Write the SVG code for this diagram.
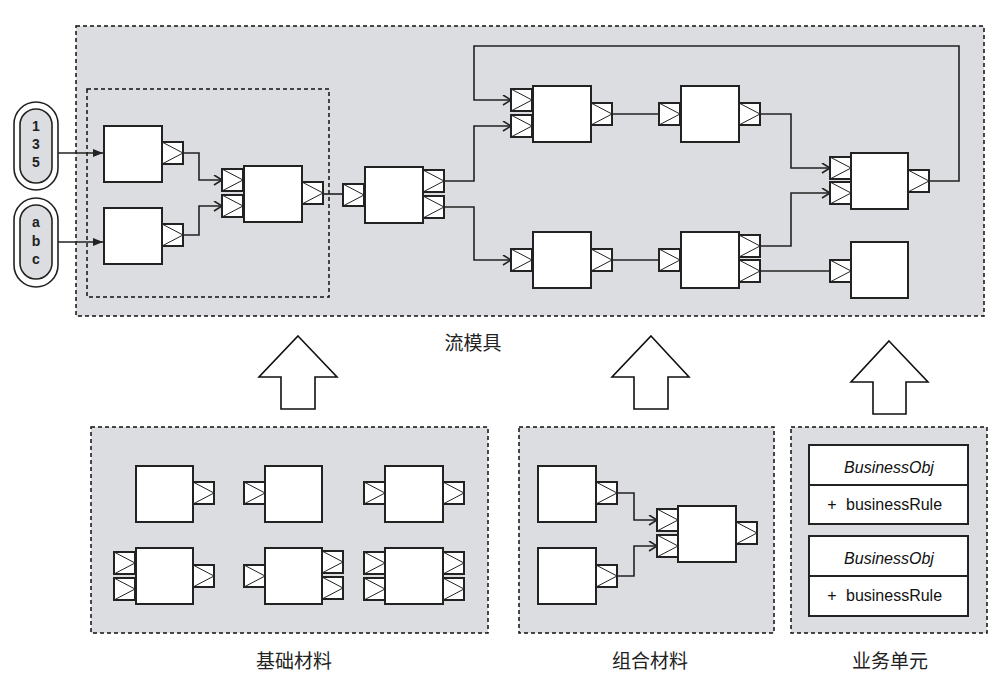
<svg xmlns="http://www.w3.org/2000/svg" xmlns:xlink="http://www.w3.org/1999/xlink" width="1000" height="688" viewBox="0 0 1000 688">
<style>
.cont{fill:#dcdde0;stroke:#111;stroke-width:1.5;stroke-dasharray:4 3}
.inner{fill:none;stroke:#111;stroke-width:1.5;stroke-dasharray:4 3}
.box{fill:#fff;stroke:#222;stroke-width:2}
.prt{fill:#fff;stroke:#222;stroke-width:2}
.tri{fill:none;stroke:#222;stroke-width:1}
.ln{fill:none;stroke:#222;stroke-width:1.6}
.big{fill:#fff;stroke:#111;stroke-width:1.6}
.pill{fill:#fff;stroke:#222;stroke-width:1.6}
.pilli{fill:#dcdde0;stroke:#222;stroke-width:1.6}
.pt{font-family:"Liberation Sans",Arial,sans-serif;font-size:14px;font-weight:bold;fill:#222;text-anchor:middle}
.cjk{font-family:"Noto Sans CJK SC","Noto Sans",sans-serif;font-size:19px;fill:#222;text-anchor:middle}
.cls{font-family:"Liberation Sans",Arial,sans-serif;font-size:16px;fill:#111}
</style>
<defs>
<g id="port"><rect class="prt" x="0" y="0" width="21" height="22"/><path class="tri" d="M0,0 L21,11 L0,22"/></g>
<marker id="fa" markerUnits="userSpaceOnUse" markerWidth="11" markerHeight="9" refX="10" refY="4" orient="auto"><path d="M0,0 L10,4 L0,8 z" fill="#222"/></marker>
<marker id="oa" markerUnits="userSpaceOnUse" markerWidth="11" markerHeight="12" refX="9" refY="5.5" orient="auto"><path d="M1,0.5 L9,5.5 L1,10.5" fill="none" stroke="#222" stroke-width="1.6"/></marker>
</defs>

<g id="containers">
<rect class="cont" x="76" y="26" width="908" height="290"/>
<rect class="inner" x="87" y="89" width="242" height="208"/>
<rect class="cont" x="91" y="427" width="397" height="206"/>
<rect class="cont" x="519" y="427" width="255" height="206"/>
<rect class="cont" x="791" y="427" width="196" height="206"/>
</g>

<g id="src1">
<rect class="pill" x="14" y="102" width="44" height="88" rx="22"/>
<rect class="pilli" x="20" y="109" width="32" height="74" rx="16"/>
<text class="pt" x="36" y="131">1</text><text class="pt" x="36" y="149">3</text><text class="pt" x="36" y="167">5</text>
</g>
<g id="src2">
<rect class="pill" x="14" y="198" width="44" height="89" rx="22"/>
<rect class="pilli" x="20" y="205" width="32" height="74" rx="16"/>
<text class="pt" x="36" y="227">a</text><text class="pt" x="36" y="246">b</text><text class="pt" x="36" y="264">c</text>
</g>

<g id="connectors">
<path class="ln" d="M58,153 H103" marker-end="url(#fa)"/>
<path class="ln" d="M58,242 H103" marker-end="url(#fa)"/>
<path class="ln" d="M183,153 H199 V180 H222" marker-end="url(#oa)"/>
<path class="ln" d="M183,235 H199 V206 H222" marker-end="url(#oa)"/>
<path class="ln" d="M323,194 H343"/>
<path class="ln" d="M444,181 H474 V126 H511" marker-end="url(#oa)"/>
<path class="ln" d="M444,207 H474 V260 H511" marker-end="url(#oa)"/>
<path class="ln" d="M929,181 H959 V46 H474 V100 H511" marker-end="url(#oa)"/>
<path class="ln" d="M612,114 H659"/>
<path class="ln" d="M612,260 H659"/>
<path class="ln" d="M760,114 H791 V168 H830" marker-end="url(#oa)"/>
<path class="ln" d="M760,246 H791 V193 H830" marker-end="url(#oa)"/>
<path class="ln" d="M760,271 H830"/>
<path class="ln" d="M617,493 H634 V520 H657" marker-end="url(#oa)"/>
<path class="ln" d="M617,576 H634 V546 H657" marker-end="url(#oa)"/>
</g>

<g id="n1"><rect class="box" x="104" y="126" width="58" height="56"/><use href="#port" x="162" y="142"/></g>
<g id="n2"><rect class="box" x="104" y="208" width="58" height="56"/><use href="#port" x="162" y="224"/></g>
<g id="n3"><use href="#port" x="222" y="169"/><use href="#port" x="222" y="195"/><rect class="box" x="244" y="166" width="58" height="56"/><use href="#port" x="302" y="182"/></g>
<g id="n4"><use href="#port" x="343" y="184"/><rect class="box" x="365" y="167" width="58" height="56"/><use href="#port" x="423" y="170"/><use href="#port" x="423" y="196"/></g>
<g id="n5"><use href="#port" x="511" y="89"/><use href="#port" x="511" y="115"/><rect class="box" x="533" y="86" width="58" height="56"/><use href="#port" x="591" y="103"/></g>
<g id="n6"><use href="#port" x="511" y="249"/><rect class="box" x="533" y="232" width="58" height="56"/><use href="#port" x="591" y="249"/></g>
<g id="n7"><use href="#port" x="659" y="103"/><rect class="box" x="681" y="86" width="58" height="56"/><use href="#port" x="739" y="103"/></g>
<g id="n8"><use href="#port" x="659" y="249"/><rect class="box" x="681" y="232" width="58" height="56"/><use href="#port" x="739" y="235"/><use href="#port" x="739" y="260"/></g>
<g id="n9"><use href="#port" x="830" y="157"/><use href="#port" x="830" y="182"/><rect class="box" x="851" y="153" width="57" height="56"/><use href="#port" x="908" y="170"/></g>
<g id="n10"><use href="#port" x="830" y="260"/><rect class="box" x="851" y="242" width="57" height="56"/></g>

<g id="label-flow"><text class="cjk" x="473" y="350">流模具</text></g>

<g id="arrows-up">
<polygon class="big" points="298,336 337,377 315,377 315,409 281,409 281,377 259,377"/>
<polygon class="big" points="651,336 689,377 668,377 668,409 634,409 634,377 612,377"/>
<polygon class="big" points="889,341 928,382 906,382 906,414 873,414 873,382 851,382"/>
</g>

<g id="basic">
<g id="b1"><rect class="box" x="136" y="466" width="57" height="56"/><use href="#port" x="193" y="482"/></g>
<g id="b2"><use href="#port" x="244" y="482"/><rect class="box" x="265" y="466" width="57" height="56"/></g>
<g id="b3"><use href="#port" x="364" y="482"/><rect class="box" x="385" y="466" width="58" height="56"/><use href="#port" x="443" y="482"/></g>
<g id="b4"><use href="#port" x="114" y="552"/><use href="#port" x="114" y="578"/><rect class="box" x="136" y="548" width="57" height="56"/><use href="#port" x="193" y="565"/></g>
<g id="b5"><use href="#port" x="244" y="565"/><rect class="box" x="265" y="548" width="57" height="56"/><use href="#port" x="322" y="551"/><use href="#port" x="322" y="577"/></g>
<g id="b6"><use href="#port" x="364" y="552"/><use href="#port" x="364" y="578"/><rect class="box" x="385" y="548" width="58" height="56"/><use href="#port" x="443" y="552"/><use href="#port" x="443" y="578"/></g>
<text class="cjk" x="294" y="668">基础材料</text>
</g>

<g id="combo">
<g id="c1"><rect class="box" x="538" y="466" width="58" height="56"/><use href="#port" x="596" y="482"/></g>
<g id="c2"><rect class="box" x="538" y="548" width="58" height="56"/><use href="#port" x="596" y="565"/></g>
<g id="c3"><use href="#port" x="657" y="509"/><use href="#port" x="657" y="535"/><rect class="box" x="678" y="506" width="58" height="56"/><use href="#port" x="736" y="522"/></g>
<text class="cjk" x="650" y="668">组合材料</text>
</g>

<g id="business">
<g id="obj1">
<rect class="box" x="809" y="445" width="159" height="79"/>
<line x1="809" y1="485" x2="968" y2="485" stroke="#222" stroke-width="2"/>
<text class="cls" x="889" y="473" text-anchor="middle" font-style="italic" font-size="15.5">BusinessObj</text>
<text class="cls" x="832" y="510" text-anchor="middle" font-size="13">+</text>
<text class="cls" x="846" y="510">businessRule</text>
</g>
<g id="obj2">
<rect class="box" x="809" y="536" width="159" height="80"/>
<line x1="809" y1="576" x2="968" y2="576" stroke="#222" stroke-width="2"/>
<text class="cls" x="889" y="564" text-anchor="middle" font-style="italic" font-size="15.5">BusinessObj</text>
<text class="cls" x="832" y="601" text-anchor="middle" font-size="13">+</text>
<text class="cls" x="846" y="601">businessRule</text>
</g>
<text class="cjk" x="890" y="668">业务单元</text>
</g>
</svg>
